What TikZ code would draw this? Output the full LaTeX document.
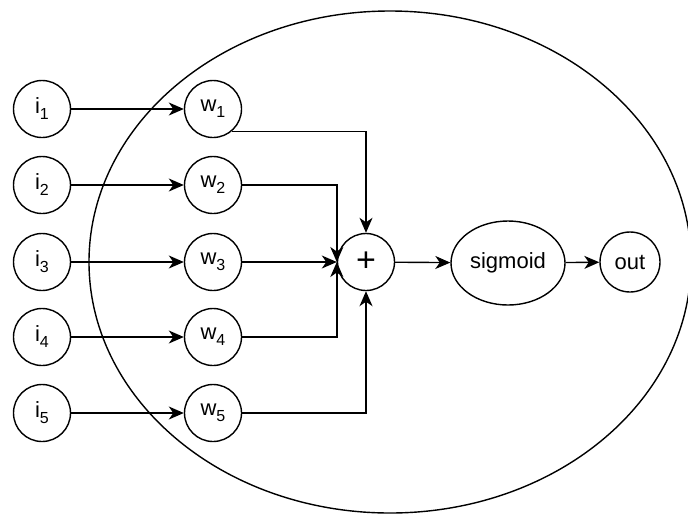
\documentclass[tikz,border=0pt]{standalone}
\usepackage{fontspec}
\setmainfont{Liberation Sans}
\usetikzlibrary{arrows.meta,positioning,shapes.geometric}
\newcommand{\idx}[1]{\raisebox{-6pt}{\fontsize{16}{16}\selectfont #1}}

\begin{document}
\begin{tikzpicture}[
  x=1pt, y=1pt,
  font=\fontsize{22}{26}\selectfont,
  unit/.style={circle, draw, line width=1.4pt, minimum size=57pt, inner sep=0pt},
  ar/.style={-{Stealth[length=15pt, width=13pt, inset=4.5pt]}, line width=1.4pt}]
\useasboundingbox (0,0) rectangle (688,-515);
\node[ellipse, draw, line width=1.4pt, minimum width=602pt, minimum height=502pt] (cell) at (390,-262) {};
% inputs
\node[unit] (i1) at (42,-109) {i\idx{1}};
\node[unit] (i2) at (42,-185) {i\idx{2}};
\node[unit] (i3) at (42,-262) {i\idx{3}};
\node[unit] (i4) at (42,-337) {i\idx{4}};
\node[unit] (i5) at (42,-413) {i\idx{5}};
% weights
\node[unit] (w1) at (213,-109) {w\idx{1}};
\node[unit] (w2) at (213,-185) {w\idx{2}};
\node[unit] (w3) at (213,-262) {w\idx{3}};
\node[unit] (w4) at (213,-337) {w\idx{4}};
\node[unit] (w5) at (213,-413) {w\idx{5}};
\draw[ar] (i1) -- (w1);
\draw[ar] (i2) -- (w2);
\draw[ar] (i3) -- (w3);
\draw[ar] (i4) -- (w4);
\draw[ar] (i5) -- (w5);
% sum and activation
\node[unit, font=\fontsize{34}{34}\selectfont] (sum) at (366,-262) {+};
\node[ellipse, draw, line width=1.4pt, minimum width=114pt, minimum height=84pt, inner sep=0pt] (sig) at (508,-263) {sigmoid};
\node[unit, minimum size=60pt] (out) at (630,-262) {out};
\draw[ar] (w1.-50) -| (sum.north);
\draw[ar] (w2) -| (sum.west);
\draw[ar] (w3) -- (sum);
\draw[ar] (w4) -| (sum.west);
\draw[ar] (w5) -| (sum.south);
\draw[ar] (sum) -- (sig);
\draw[ar] (sig) -- (out);
\end{tikzpicture}
\end{document}
